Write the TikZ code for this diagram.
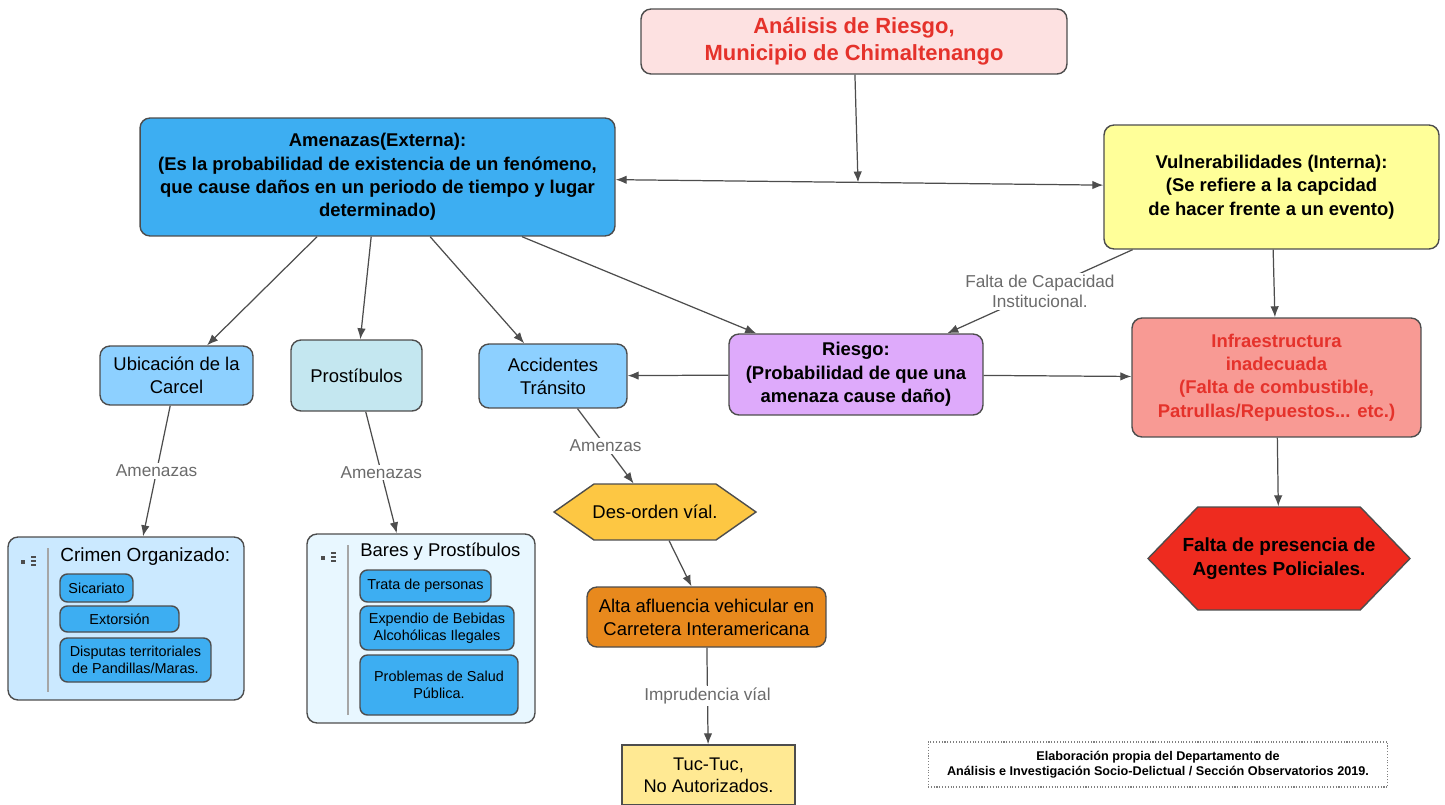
\documentclass[tikz,border=0pt]{standalone}
\usepackage{fontspec}
\setmainfont{Liberation Sans}
\usetikzlibrary{arrows.meta,shapes.symbols}
\definecolor{linegray}{HTML}{4D4D4D}
\definecolor{labgray}{HTML}{6B6B6B}
\definecolor{titlefill}{HTML}{FDE1E1}
\definecolor{titlered}{HTML}{E5322B}
\definecolor{amenblue}{HTML}{3DAEF2}
\definecolor{lightblue}{HTML}{8DD0FF}
\definecolor{cyanfill}{HTML}{C4E7F0}
\definecolor{vulyellow}{HTML}{FFFF99}
\definecolor{riesgoviolet}{HTML}{DEAAFB}
\definecolor{infrasalmon}{HTML}{F89A94}
\definecolor{faltared}{HTML}{EE2B1F}
\definecolor{desorden}{HTML}{FDC743}
\definecolor{altaorange}{HTML}{E8891D}
\definecolor{tucyellow}{HTML}{FFE993}
\definecolor{crimenfill}{HTML}{CBE9FF}
\definecolor{baresfill}{HTML}{E8F7FF}
\begin{document}
\begin{tikzpicture}[x=0.02cm,y=-0.02cm,
    box/.style={draw=linegray, line width=0.8pt, rounded corners=2mm,
      align=center, inner sep=2pt},
    bigtext/.style={font=\fontsize{10.5}{13.3}\selectfont\bfseries},
    smalltext/.style={font=\fontsize{10.5}{13}\selectfont},
    itembox/.style={box, fill=amenblue, rounded corners=1.5mm,
      font=\fontsize{8.2}{9.5}\selectfont},
    hexa/.style={draw=linegray, line width=0.8pt, signal, signal to=east and west,
      align=center, inner sep=1pt},
    link/.style={draw=linegray, line width=0.7pt,
      -{Latex[length=2.2mm,width=1.7mm]}},
    linklabel/.style={fill=white, text=labgray, align=center,
      font=\fontsize{9.8}{11.5}\selectfont, inner sep=1pt}]
  \useasboundingbox (0,0) rectangle (1445,805);
  % main nodes
  \node[box, fill=titlefill, text=titlered, minimum width=8.52cm, minimum height=1.3cm,
    font=\fontsize{12.5}{15.3}\selectfont\bfseries] (title) at (854,41.5)
    {Análisis de Riesgo,\\Municipio de Chimaltenango};
  \node[box, bigtext, fill=amenblue, minimum width=9.5cm, minimum height=2.36cm]
    (amen) at (377.5,177)
    {Amenazas(Externa):\\(Es la probabilidad de existencia de un fenómeno,\\
     que cause daños en un periodo de tiempo y lugar\\determinado)};
  \node[box, bigtext, fill=vulyellow, minimum width=6.7cm, minimum height=2.48cm]
    (vul) at (1271.5,187)
    {Vulnerabilidades (Interna):\\(Se refiere a la capcidad\\de hacer frente a un evento)};
  \node[box, bigtext, fill=riesgoviolet, minimum width=5.08cm, minimum height=1.62cm]
    (riesgo) at (856,374.5)
    {Riesgo:\\(Probabilidad de que una\\amenaza cause daño)};
  \node[box, bigtext, fill=infrasalmon, text=titlered, minimum width=5.78cm,
    minimum height=2.38cm] (infra) at (1276.5,377.5)
    {Infraestructura\\inadecuada\\(Falta de combustible,\\Patrullas/Repuestos... etc.)};
  \node[box, smalltext, fill=lightblue, minimum width=3.06cm, minimum height=1.18cm]
    (ubic) at (176.5,375.5) {Ubicación de la\\Carcel};
  \node[box, smalltext, fill=cyanfill, minimum width=2.62cm, minimum height=1.42cm]
    (prost) at (356.5,375.5) {Prostíbulos};
  \node[box, smalltext, fill=lightblue, minimum width=2.96cm, minimum height=1.28cm]
    (accid) at (553,376) {Accidentes\\Tránsito};
  \node[hexa, smalltext, fill=desorden, minimum width=4.04cm, minimum height=1.12cm,
    signal pointer angle=70, inner xsep=-2pt] (desord) at (655,512) {Des-orden víal.};
  \node[box, smalltext, fill=altaorange, minimum width=4.78cm, minimum height=1.2cm]
    (alta) at (706.5,617) {Alta afluencia vehicular en\\Carretera Interamericana};
  \node[box, rounded corners=0pt, fill=tucyellow, minimum width=3.46cm,
    minimum height=1.2cm, font=\fontsize{10.4}{12.5}\selectfont]
    (tuc) at (708.5,775) {Tuc-Tuc,\\No Autorizados.};
  \node[hexa, fill=faltared, minimum width=5.24cm, minimum height=2.06cm,
    signal pointer angle=92, inner xsep=-16pt,
    font=\fontsize{10.8}{14}\selectfont\bfseries] (falta) at (1279,558.5)
    {Falta de presencia de\\Agentes Policiales.};
  % list containers
  \node[box, fill=crimenfill, minimum width=4.72cm, minimum height=3.26cm]
    (crimen) at (126,618.5) {};
  \node[box, fill=baresfill, minimum width=4.56cm, minimum height=3.78cm]
    (bares) at (421,628.5) {};
  \draw[gray!70, line width=0.6pt] (48,548) -- (48,692);
  \draw[gray!70, line width=0.6pt] (348,545) -- (348,715);
  \fill[linegray] (21,560) rectangle (25,564);
  \foreach \yy in {557,561,565}
    \draw[linegray, line width=0.6pt] (31,\yy) -- (36,\yy);
  \fill[linegray] (321,556) rectangle (325,560);
  \foreach \yy in {553,557,561}
    \draw[linegray, line width=0.6pt] (331,\yy) -- (336,\yy);
  \node[anchor=west, inner sep=0pt, font=\fontsize{10.8}{12}\selectfont]
    (crimentitle) at (60,557) {Crimen Organizado:};
  \node[itembox, minimum width=1.46cm, minimum height=0.56cm] (sicar) at (96.5,588) {Sicariato};
  \node[itembox, minimum width=2.38cm, minimum height=0.52cm] (extor) at (119.5,619) {Extorsión};
  \node[itembox, minimum width=3.02cm, minimum height=0.88cm] (disput) at (135.5,660)
    {Disputas territoriales\\de Pandillas/Maras.};
  \node[anchor=west, inner sep=0pt, font=\fontsize{10.5}{12}\selectfont]
    (barestitle) at (360,552) {Bares y Prostíbulos};
  \node[itembox, minimum width=2.62cm, minimum height=0.64cm] (trata) at (425.5,586)
    {Trata de personas};
  \node[itembox, minimum width=3.08cm, minimum height=0.88cm] (expend) at (437,628)
    {Expendio de Bebidas\\Alcohólicas Ilegales};
  \node[itembox, minimum width=3.16cm, minimum height=1.2cm] (salud) at (439,685)
    {Problemas de Salud\\Pública.};
  % footer
  \node[draw=gray, densely dotted, line width=0.6pt, minimum width=9.2cm, minimum height=0.9cm,
    align=center, font=\fontsize{7.2}{8.8}\selectfont\bfseries] (footer) at (1158,764.5)
    {Elaboración propia del Departamento de\\
     Análisis e Investigación Socio-Delictual / Sección Observatorios 2019.};
  % connectors
  \coordinate (junc) at (858,182.5);
  \draw[link] (title) -- (junc);
  \draw[link, {Latex[length=2.2mm,width=1.7mm]}-{Latex[length=2.2mm,width=1.7mm]}] (amen) -- (vul);
  \draw[link] (amen) -- (ubic);
  \draw[link] (amen) -- (prost);
  \draw[link] (amen) -- (accid);
  \draw[link] (amen) -- (riesgo);
  \draw[link] (vul) -- node[linklabel] {Falta de Capacidad\\Institucional.} (riesgo);
  \draw[link] (vul) -- (infra);
  \draw[link] (riesgo) -- (accid);
  \draw[link] (riesgo) -- (infra);
  \draw[link] (infra) -- (falta);
  \draw[link] (ubic) -- node[linklabel] {Amenazas} (crimen);
  \draw[link] (prost) -- node[linklabel] {Amenazas} (bares);
  \draw[link] (accid) -- node[linklabel] {Amenzas} (desord);
  \draw[link] (desord) -- (alta);
  \draw[link] (alta) -- node[linklabel] {Imprudencia víal} (tuc);
\end{tikzpicture}
\end{document}
